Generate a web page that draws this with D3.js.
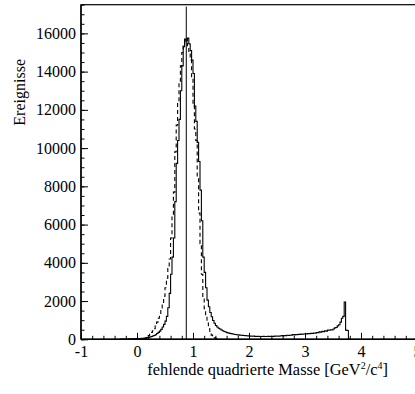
<!DOCTYPE html>
<html><head><meta charset="utf-8">
<script src="https://cdn.jsdelivr.net/npm/d3@7/dist/d3.min.js"></script>
<style>body{margin:0;background:#fff}svg{display:block}text{font-family:"Liberation Serif","DejaVu Serif",serif;fill:#000}</style>
</head><body>
<script>
// ---- data ----
const binWidth = 0.025;
const dataStart = -0.3;   // lower edge of first data bin
const dataValues = [
 8,12,10,15,14,18,20,22,25,28,30,34,
 38,42,45,52,58,66,75,88,100,120,145,170,200,240,300,360,430,520,640,780,950,1200,1650,2400,
 3400,4300,5300,7200,9200,10400,11500,13000,14300,15300,15700,15600,15750,15450,15100,14600,
 13900,12200,11400,10300,9300,7800,6200,4300,3500,2700,2050,1700,1400,1180,980,840,720,640,580,540,
 490,450,410,380,350,330,310,295,280,265,250,240,230,220,210,205,200,190,185,180,
 170,165,160,170,155,150,160,150,145,150,155,145,150,160,150,155,160,150,165,160,
 170,165,175,200,180,190,185,210,200,215,220,250,230,245,240,255,260,270,265,280,
 290,285,300,295,310,305,330,320,350,340,390,370,420,400,450,430,480,470,500,490,
 540,600,620,700,760,900,1100,1200,1950,480,460,0
];
const fitStart = 0.0;
const fitValues = [
 5,8,12,18,25,35,50,75,200,280,360,450,560,700,900,1100,1350,1600,1900,2250,
 2700,3200,3700,4200,5300,6400,7700,9800,11200,12400,13500,14300,15000,15400,15600,15500,
 15300,15000,14600,13600,12200,11000,10400,8500,6600,5000,3400,2200,1600,1200,850,550,
 350,220,130,80,50,25,10,0
];
const markerX = 0.88;           // vertical reference line
const markerTop = 17400;
const xTicks = [-1,0,1,2,3,4,5];
const yTicks = [0,2000,4000,6000,8000,10000,12000,14000,16000];
const xDomain = [-1,5];
const yDomain = [0,17500];
const xTitle = "fehlende quadrierte Masse";
const yTitle = "Ereignisse";

// ---- chart ----
const W = 415, H = 394;
const svg = d3.select("body").append("svg").attr("width",W).attr("height",H);
const x = d3.scaleLinear().domain(xDomain).range([81,417]);
const y = d3.scaleLinear().domain(yDomain).range([339.3,4.7]);

function histPoints(start, vals){
  const pts = [[start,0]];
  vals.forEach((v,i)=>{
    const e = start + i*binWidth;
    pts.push([e,v]); pts.push([e+binWidth,v]);
  });
  pts.push([start+vals.length*binWidth,0]);
  return pts;
}
const line = d3.line().x(d=>x(d[0])).y(d=>y(d[1]));

svg.append("path").attr("d", line(histPoints(fitStart, fitValues)))
  .attr("fill","none").attr("stroke","#000").attr("stroke-width",1.1)
  .attr("stroke-dasharray","4,3");
svg.append("path").attr("d", line(histPoints(dataStart, dataValues)))
  .attr("fill","none").attr("stroke","#000").attr("stroke-width",1.1);

svg.append("line").attr("x1",x(markerX)).attr("x2",x(markerX))
  .attr("y1",y(markerTop)).attr("y2",y(0)).attr("stroke","#000").attr("stroke-width",1);

// frame
svg.append("rect").attr("x",x(xDomain[0])).attr("y",y(yDomain[1]))
  .attr("width",x(xDomain[1])-x(xDomain[0])).attr("height",y(0)-y(yDomain[1]))
  .attr("fill","none").attr("stroke","#000").attr("stroke-width",1.2);

// axes
const yMinor = d3.range(0, yDomain[1]+1, 500);
svg.append("g").attr("transform",`translate(${x(xDomain[0])},0)`)
  .call(d3.axisLeft(y).tickValues(yMinor).tickSize(-3.5).tickSizeOuter(0).tickFormat(""))
  .call(g=>g.select(".domain").remove());
svg.append("g").attr("transform",`translate(${x(xDomain[0])},0)`)
  .call(d3.axisLeft(y).tickValues(yTicks).tickSize(-7).tickSizeOuter(0).tickPadding(5).tickFormat(d3.format("d")))
  .call(g=>g.select(".domain").remove())
  .call(g=>g.selectAll("text").attr("font-size",16).attr("font-family","Liberation Serif"));

const xMinor = d3.range(-1, 5.001, 0.2);
svg.append("g").attr("transform",`translate(0,${y(0)})`)
  .call(d3.axisBottom(x).tickValues(xMinor).tickSize(-3.5).tickSizeOuter(0).tickFormat(""))
  .call(g=>g.select(".domain").remove());
svg.append("g").attr("transform",`translate(0,${y(0)})`)
  .call(d3.axisBottom(x).tickValues(xTicks).tickSize(-6.5).tickSizeOuter(0).tickPadding(6).tickFormat(d=>String(d)))
  .call(g=>g.select(".domain").remove())
  .call(g=>g.selectAll("text").attr("font-size",16).attr("font-family","Liberation Serif"));
svg.selectAll(".tick line").attr("stroke","#000");
svg.append("line").attr("x1",x(-1)).attr("x2",W).attr("y1",y(0)).attr("y2",y(0)).attr("stroke","#000").attr("stroke-width",1.4);
svg.append("line").attr("x1",x(-1)).attr("x2",x(-1)).attr("y1",y(yDomain[1])).attr("y2",y(0)).attr("stroke","#000").attr("stroke-width",1.4);

// titles
const xt = svg.append("text").attr("x",388).attr("y",375).attr("text-anchor","end").attr("font-size",16.4);
xt.append("tspan").text(xTitle + " [GeV");
xt.append("tspan").attr("font-size",10).attr("dy",-6).text("2");
xt.append("tspan").attr("dy",6).text("/c");
xt.append("tspan").attr("font-size",10).attr("dy",-6).text("4");
xt.append("tspan").attr("dy",6).text("]");

svg.append("text").attr("transform","translate(24.5,59) rotate(-90)")
  .attr("text-anchor","end").attr("font-size",16).text(yTitle);
</script>
</body></html>
